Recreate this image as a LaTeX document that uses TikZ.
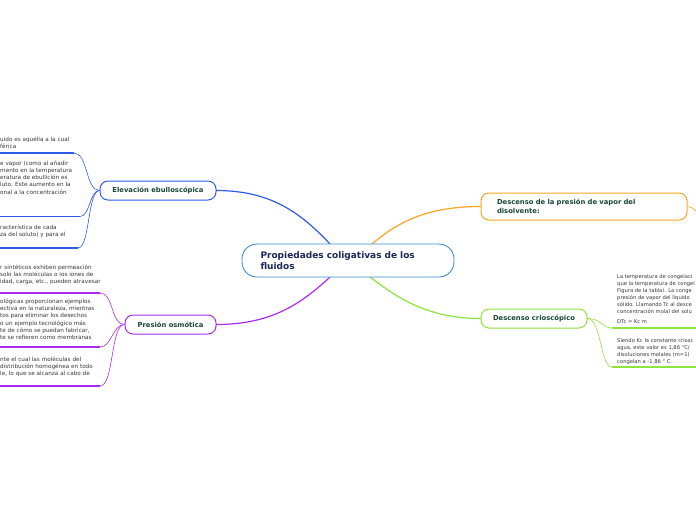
\documentclass[tikz,border=0pt]{standalone}
\usepackage{fontspec}
\setmainfont{DejaVu Sans}
\usetikzlibrary{calc}

\definecolor{ebublue}{RGB}{46,92,232}
\definecolor{osmopurple}{RGB}{168,44,240}
\definecolor{vaporange}{RGB}{247,166,35}
\definecolor{criogreen}{RGB}{142,228,62}
\definecolor{mainblue}{RGB}{58,140,210}
\definecolor{maintext}{RGB}{28,40,88}
\definecolor{branchtext}{RGB}{24,72,56}
\definecolor{leafgray}{RGB}{55,55,55}

\tikzset{
  mainbox/.style={draw=mainblue, line width=0.9pt, rounded corners=15pt, fill=white, minimum width=212pt, minimum height=33pt, inner xsep=18.5pt, text width=175pt, align=left, text=maintext, font=\fontsize{9}{11.5}\selectfont\bfseries},
  branchbox/.style={draw=#1, line width=1pt, rounded corners=8pt, fill=white, minimum height=19pt, text=branchtext, font=\fontsize{6.8}{8.6}\selectfont\bfseries},
  leaftext/.style={anchor=north west, inner sep=0pt, align=left, text=leafgray, font=\fontsize{5.7}{7.1}\selectfont},
  leafsmall/.style={leaftext, font=\fontsize{5.2}{7}\selectfont},
  leafline/.style={draw=#1, line width=1.6pt},
  twig/.style={draw=#1, line width=0.6pt},
  limb/.style={draw=#1, line width=1.2pt},
}

\begin{document}
\begin{tikzpicture}[x=1pt,y=-1pt]
		%%%%% START %%%%%
		\useasboundingbox (0,0) rectangle (696,520);
		\clip (0,0) rectangle (696,520);
		
		% limbs first, boxes cover their ends
		\coordinate (cN1) at (330,244);
		\coordinate (cS1) at (330,277);
		\coordinate (cN2) at (372,244);
		\coordinate (cS2) at (370,277);
		\draw[limb=ebublue] (cN1) .. controls (300,212) and (270,190.5) .. (216,190.5);
		\draw[limb=osmopurple] (cS1) .. controls (300,305) and (270,324.5) .. (216,324.5);
		\draw[limb=vaporange] (cN2) .. controls (400,220) and (430,206.5) .. (481,206.5);
		\draw[limb=criogreen] (cS2) .. controls (400,300) and (430,318.5) .. (481,318.5);
		
		\node[mainbox] (center) at (348,260.5) {Propiedades coligativas de los\\fluidos};
		
		\node[branchbox=ebublue, minimum width=116pt] (ebull) at (158,190.5) {Elevación ebulloscópica};
		\node[branchbox=osmopurple, minimum width=91pt] (osmo) at (170.5,324.5) {Presión osmótica};
		\node[branchbox=vaporange, minimum width=206pt, minimum height=27pt, inner xsep=16pt, text width=174pt, align=left] (vapor) at (584,206.5) {Descenso de la presión de vapor del\\disolvente:};
		\node[branchbox=criogreen, minimum width=106pt] (crio) at (534,318.5) {Descenso crioscópico};
		
		% blue leaves
		\node[leaftext] (eb1) at (0,137) {uido es aquélla a la cual\\férica};
		\node[leaftext] (eb2) at (0,161) {e vapor (como al añadir\\mento en la temperatura\\eratura de ebullición es\\luto. Este aumento en la\\onal a la concentración};
		\node[leaftext] (eb3) at (0,225) {racterística de cada\\za del soluto) y para el};
		\coordinate (ebe1) at (74,153);
		\coordinate (ebe2) at (80,216.5);
		\coordinate (ebe3) at (78,248);
		\draw[leafline=ebublue] (0,153) -- (ebe1);
		\draw[leafline=ebublue] (0,216.5) -- (ebe2);
		\draw[leafline=ebublue] (0,248) -- (ebe3);
		\draw[twig=ebublue] (ebe1) .. controls +(14,0) and +(-14,0) .. (ebull.west);
		\draw[twig=ebublue] (ebe2) .. controls +(10,0) and +(-10,0) .. (ebull.west);
		\draw[twig=ebublue] (ebe3) .. controls +(12,0) and +(-12,0) .. (ebull.west);
		
		% purple leaves
		\node[leaftext] (os1) at (0,265) {r sintéticos exhiben permeación\\solo las moléculas o los iones de\\idad, carga, etc., pueden atravesar};
		\node[leaftext] (os2) at (0,299) {ológicas proporcionan ejemplos\\ectiva en la naturaleza, mientras\\tos para eliminar los desechos\\o un ejemplo tecnológico más\\te de cómo se puedan fabricar,\\te se refieren como membranas};
		\node[leaftext] (os3) at (0,357) {nte el cual las moléculas del\\distribución homogénea en todo\\le, lo que se alcanza al cabo de};
		\coordinate (ose1) at (100,293);
		\coordinate (ose2) at (100,347);
		\coordinate (ose3) at (100,386);
		\draw[leafline=osmopurple] (0,293) -- (ose1);
		\draw[leafline=osmopurple] (0,347) -- (ose2);
		\draw[leafline=osmopurple] (0,386) -- (ose3);
		\draw[twig=osmopurple] (ose1) .. controls +(14,0) and +(-14,0) .. (osmo.west);
		\draw[twig=osmopurple] (ose2) .. controls +(12,0) and +(-12,0) .. (osmo.west);
		\draw[twig=osmopurple] (ose3) .. controls +(14,0) and +(-14,0) .. (osmo.west);
		
		% green leaves
		\node[leafsmall] (cr1) at (617,274) {La temperatura de congelaci\\que la temperatura de congel\\Figura de la tabla). La conge\\presión de vapor del líquido \\sólido. Llamando Tc al desce\\concentración molal del solu\\[3.5pt]DTc = Kc m};
		\node[leafsmall] (cr2) at (617,338) {Siendo Kc la constante criosc\\agua, este valor es 1,86 °C/\\disoluciones molales (m=1)\\congelan a -1,86 ° C.};
		\coordinate (cre1) at (612,328);
		\coordinate (cre2) at (612,367);
		\draw[leafline=criogreen] (cre1) -- (696,328);
		\draw[leafline=criogreen] (cre2) -- (696,367);
		\draw[twig=criogreen] (crio.east) .. controls +(14,0) and +(-10,0) .. (cre1);
		\draw[twig=criogreen] (crio.east) .. controls +(14,0) and +(-12,0) .. (cre2);
		
		% orange leaf, off the page
		\coordinate (vae1) at (700,213);
		\draw[twig=vaporange] (vapor.east) .. controls +(6,0) and +(-4,0) .. (vae1);
		
		%%%%% END %%%%%
	\end{tikzpicture}
\end{document}
